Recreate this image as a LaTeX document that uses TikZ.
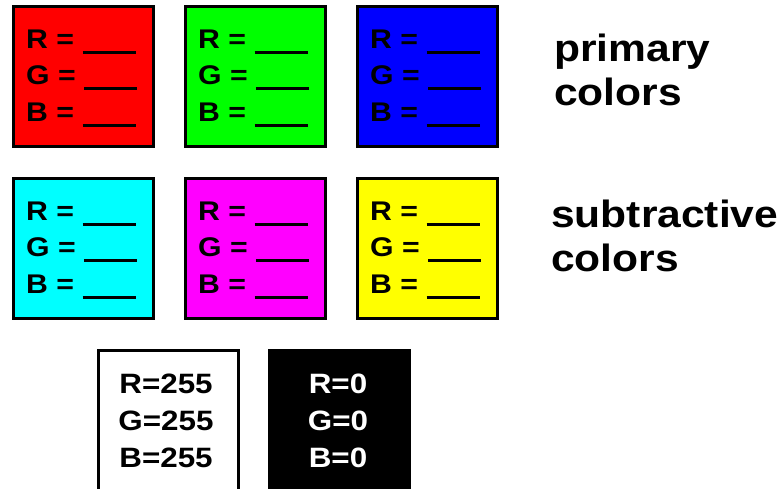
\documentclass[tikz,border=0pt]{standalone}
\usepackage{fontspec}
\setmainfont{Liberation Sans}[FakeStretch=1.12]
% pure RGB swatch colours
\definecolor{swred}{RGB}{255,0,0}
\definecolor{swgreen}{RGB}{0,255,0}
\definecolor{swblue}{RGB}{0,0,255}
\definecolor{swcyan}{RGB}{0,255,255}
\definecolor{swmagenta}{RGB}{255,0,255}
\definecolor{swyellow}{RGB}{255,255,0}
\begin{document}
\begin{tikzpicture}[x=1pt,y=-1pt,
  swatch/.style={draw=black,line width=3pt,minimum width=140pt,minimum height=140pt,inner sep=0pt,anchor=north west},
  chan/.style={anchor=base west,inner sep=0pt,font=\fontsize{27}{27}\selectfont\bfseries},
  value/.style={anchor=base,inner sep=0pt,font=\fontsize{28}{28}\selectfont\bfseries},
  caption/.style={anchor=base west,inner sep=0pt,font=\fontsize{38}{38}\selectfont\bfseries}]
\useasboundingbox (0,0) rectangle (783,488);
\newcommand{\blank}{\rule[-6pt]{53pt}{3pt}}
% colour swatches with blanks to fill in
\foreach \name/\col/\bx/\by in {red/swred/10/3, green/swgreen/182/3, blue/swblue/354/3,
                               cyan/swcyan/10/175, magenta/swmagenta/182/175, yellow/swyellow/354/175}{
  \node[swatch,fill=\col] (\name) at (\bx+1.5,\by+1.5) {};
  \node[chan] (\name-r) at (\bx+16,\by+45) {R = \blank};
  \node[chan] (\name-g) at (\bx+16,\by+81) {G = \blank};
  \node[chan] (\name-b) at (\bx+16,\by+118) {B = \blank};
}
% white and black
\node[swatch,fill=white] (white) at (96.5,348.5) {};
\node[value] (white-r) at (166,393) {R=255};
\node[value] (white-g) at (166,430) {G=255};
\node[value] (white-b) at (166,467) {B=255};
\node[swatch,fill=black] (black) at (267.5,348.5) {};
\node[value,text=white] (black-r) at (338,393) {R=0};
\node[value,text=white] (black-g) at (338,430) {G=0};
\node[value,text=white] (black-b) at (338,467) {B=0};
% row captions
\node[caption] (prim1) at (554,61) {primary};
\node[caption] (prim2) at (554,105) {colors};
\node[caption] (sub1) at (551,227) {subtractive};
\node[caption] (sub2) at (551,271) {colors};
\end{tikzpicture}
\end{document}
